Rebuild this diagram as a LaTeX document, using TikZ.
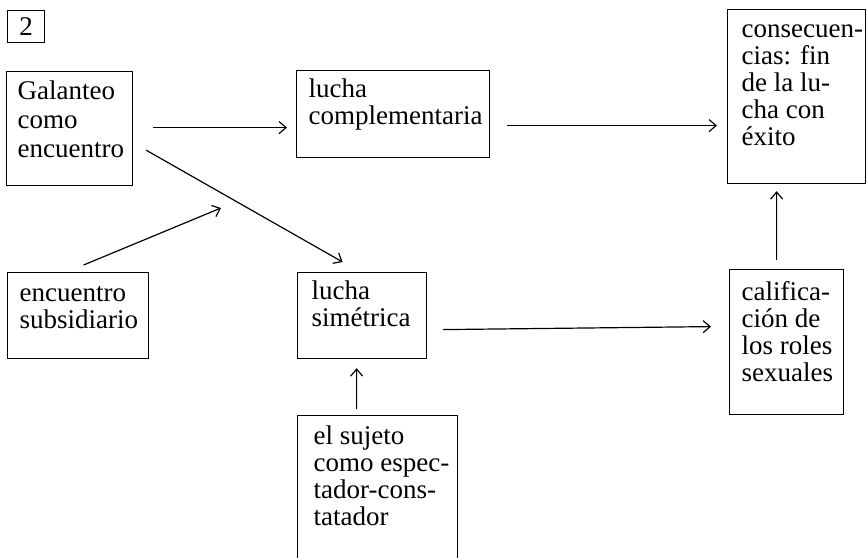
\documentclass[tikz,border=0pt]{standalone}
\usepackage{fontspec}
\setmainfont{Liberation Serif}
\usetikzlibrary{arrows.meta,calc}

% text block of a box: width, height, left inset, depth of first baseline, lines
\newcommand\celltext[5]{%
  \parbox[c][#2][t]{#1}{\raggedright\leftskip=#3\relax
    \fontsize{27bp}{27bp}\selectfont\lineskiplimit=-100bp\relax
    \rule{0pt}{#4}#5}}

\tikzset{
  blk/.style={draw, line width=1.2bp, inner sep=0pt, anchor=north west},
  arr/.style={line width=1.2bp, -{Straight Barb[length=7bp,width=12bp,line width=1.2bp]}}
}

\begin{document}
\begin{tikzpicture}[x=1bp, y=-1bp]
  \useasboundingbox (0,0) rectangle (867,558);
  \clip (0,0) rectangle (867,558);

  % figure number
  \node[blk, minimum width=37bp, minimum height=32bp, font=\fontsize{27bp}{27bp}\selectfont]
    (num) at (7,10) {2};

  % boxes
  \node[blk] (gal) at (6,71)
    {\celltext{126bp}{114bp}{11bp}{28bp}{\baselineskip=29bp Galanteo\\como\\encuentro}};
  \node[blk] (comp) at (296,70)
    {\celltext{193bp}{87bp}{12bp}{27bp}{lucha\\complementaria}};
  \node[blk] (cons) at (727,9)
    {\celltext{138bp}{174bp}{14bp}{28bp}{consecuen-\\cias: fin\\de la lu-\\cha con\\éxito}};
  \node[blk] (sub) at (7,272)
    {\celltext{141bp}{86bp}{12bp}{29bp}{encuentro\\subsidiario}};
  \node[blk] (sim) at (297,272)
    {\celltext{129bp}{86bp}{14bp}{27bp}{lucha\\simétrica}};
  \node[blk] (cal) at (729,269)
    {\celltext{114bp}{145bp}{12bp}{31bp}{califica-\\ción de\\los roles\\sexuales}};
  \node[blk] (suj) at (297,415)
    {\celltext{160bp}{160bp}{16bp}{29bp}{el sujeto\\como espec-\\tador-cons-\\tatador}};

  % connectors
  \coordinate (merge) at (221,208);
  \draw[arr] ($(gal.east)+(20,-1)$) -- ($(gal.east -| comp.west)+(-9,-1)$);
  \draw[arr] ($(comp.east)+(17,11.5)$) -- ($(comp.east -| cons.west)+(-10,11.5)$);
  \draw[arr] ($(gal.south east)+(13,-36)$) -- ($(sim.north)+(-19.5,-10)$);
  \draw[arr] ($(sub.north)+(5.5,-7)$) -- (merge);
  \draw[arr] ($(sim.east)+(16,14)$) -- ($(cal.west)+(-18,-15.5)$);
  \draw[arr] ($(suj.north)+(-21,-6)$) -- ($(sim.south)+(-5.5,9)$);
  \draw[arr] ($(cal.north)+(-10,-9)$) -- ($(cons.south)+(-20,7)$);
\end{tikzpicture}
\end{document}
